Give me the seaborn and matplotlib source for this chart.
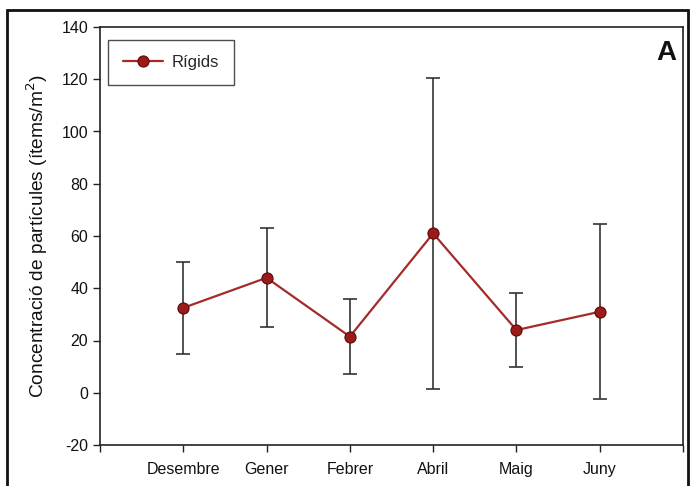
import matplotlib
matplotlib.use("Agg")
import matplotlib.pyplot as plt
import seaborn as sns
import pandas as pd
import numpy as np
from matplotlib.patches import Rectangle

months = ["Desembre", "Gener", "Febrer", "Abril", "Maig", "Juny"]
means = [32.5, 44.0, 21.5, 61.0, 24.0, 31.0]
errors = [17.5, 19.0, 14.5, 59.5, 14.0, 33.5]
series_name = "Rígids"

sns.set_theme(style="white")
plt.rcParams["font.family"] = ["Liberation Sans", "DejaVu Sans"]
plt.rcParams["axes.unicode_minus"] = False

df = pd.DataFrame({"x": np.arange(len(months)), "y": means, "err": errors})

fig = plt.figure(figsize=(6.91, 4.86), dpi=100)
ax = fig.add_axes([100/691, (486-445)/486, (683-100)/691, (445-27)/486])

ax.errorbar(df["x"], df["y"], yerr=df["err"], fmt="none", ecolor="#333333",
            elinewidth=1.2, capsize=5, capthick=1.2, zorder=2)
sns.lineplot(data=df, x="x", y="y", ax=ax, color="#A52A2A", linewidth=1.6,
             marker="o", markersize=8, markerfacecolor="#9B1B1B",
             markeredgecolor="#5A0A0A", markeredgewidth=0.8,
             label=series_name, zorder=3)

ax.set_xlim(-1, 6)
ax.set_ylim(-20, 140)
ax.set_yticks(np.arange(-20, 141, 20))
ax.set_xticks(np.arange(-1, 7))
ax.set_xticklabels([""] + months + [""])
ax.tick_params(axis="both", direction="out", length=5, width=1, color="#222222",
               labelsize=11.5, labelcolor="#111111", bottom=True, left=True)
ax.tick_params(axis="x", pad=7)
for s in ax.spines.values():
    s.set_color("#222222")
    s.set_linewidth(1.2)
    s.set_visible(True)
ax.set_xlabel("")
ax.set_ylabel("Concentració de partícules (ítems/m$^2$)", fontsize=13.8, color="#111111", labelpad=8)

leg = ax.legend(loc="upper left", bbox_to_anchor=(0.0, 0.99), frameon=True,
                fancybox=False, edgecolor="#222222", fontsize=12,
                handlelength=2.4, handletextpad=0.5, borderpad=0.9)
leg.get_frame().set_linewidth(1.0)

ax.text(0.988, 0.97, "A", transform=ax.transAxes, ha="right", va="top",
        fontsize=20, fontweight="bold", color="#111111")

fig.patches.append(Rectangle((7/691, -0.1), (688-7)/691, 1.1 - 10/486,
                             transform=fig.transFigure, fill=False,
                             edgecolor="#111111", linewidth=2))

fig.savefig("out.png", dpi=100)
